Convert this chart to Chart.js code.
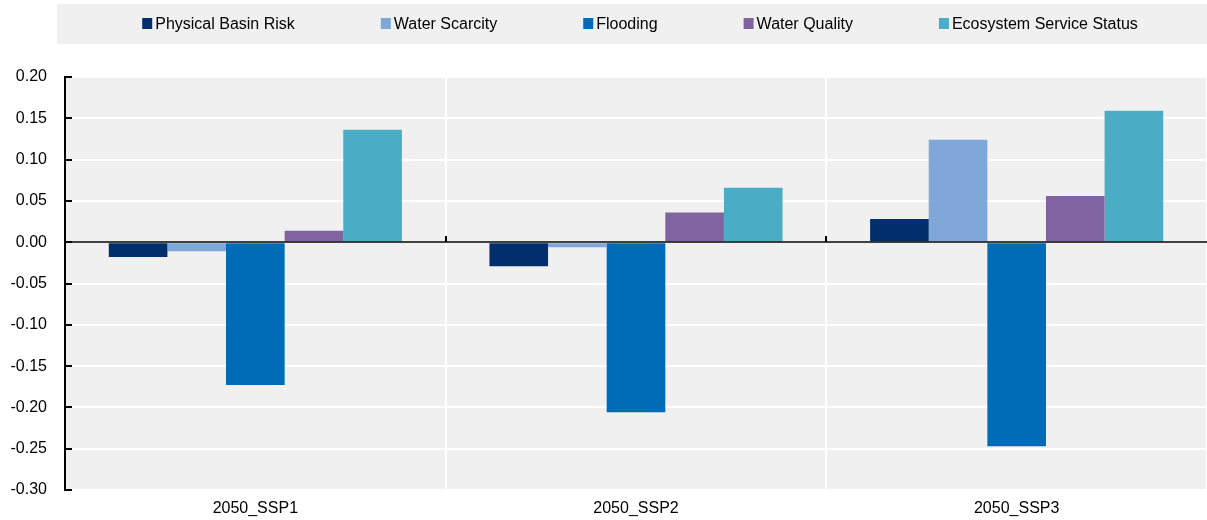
<!DOCTYPE html>
<html>
<head>
<meta charset="utf-8">
<script src="https://cdn.jsdelivr.net/npm/chart.js@4.4.0/dist/chart.umd.min.js"></script>
<style>
  html, body { margin: 0; padding: 0; background: #fff; }
  #wrap { width: 1207px; height: 520px; }
</style>
</head>
<body>
<div id="wrap"><canvas id="myChart" width="1207" height="520"></canvas></div>
<script>
'use strict';

let scenarios = ['2050_SSP1', '2050_SSP2', '2050_SSP3'];

let physicalBasinRisk = [-0.018, -0.029, 0.028];
let waterScarcity = [-0.011, -0.006, 0.124];
let flooding = [-0.173, -0.206, -0.247];
let waterQuality = [0.014, 0.036, 0.056];
let ecosystemService = [0.136, 0.066, 0.159];

let seriesNames = ['Physical Basin Risk', 'Water Scarcity', 'Flooding', 'Water Quality', 'Ecosystem Service Status'];
let seriesColors = ['#002F6C', '#7FA8D9', '#006BB6', '#8064A2', '#4BACC6'];

let yTicks = { min: -0.30, max: 0.20, step: 0.05 };

const FONT = 'Arial, "Liberation Sans", sans-serif';

// gray plot background + legend strip
const backdrop = {
    id: 'backdrop',
    beforeDraw(chart) {
        const ctx = chart.ctx;
        const a = chart.chartArea;
        ctx.save();
        ctx.fillStyle = '#f0f0f0';
        ctx.fillRect(57, 4, chart.width - 57, 40);
        ctx.fillRect(a.left, a.top, a.right - a.left, a.bottom - a.top);
        ctx.restore();
    }
};

// legend drawn by hand so item spacing can match
const legendRow = {
    id: 'legendRow',
    afterDraw(chart) {
        const ctx = chart.ctx;
        const sets = chart.data.datasets;
        ctx.save();
        ctx.font = '16px ' + FONT;
        ctx.textBaseline = 'middle';
        let gap = 86, box = 10;
        let total = 0;
        sets.forEach(function (d) { total += box + 3 + ctx.measureText(d.label).width; });
        total += gap * (sets.length - 1);
        let x = 640 - total / 2;
        let y = 24;
        sets.forEach(function (d) {
            ctx.fillStyle = d.backgroundColor;
            ctx.fillRect(x, y - 6, box, 11);
            ctx.fillStyle = '#000';
            ctx.fillText(d.label, x + box + 3, y + 1);
            x += box + 3 + ctx.measureText(d.label).width + gap;
        });
        ctx.restore();
    }
};

// zero line, inward y ticks and small ticks at category borders
const axisBits = {
    id: 'axisBits',
    afterDatasetsDraw(chart) {
        const ctx = chart.ctx;
        const a = chart.chartArea;
        const y = chart.scales.y;
        const y0 = Math.round(y.getPixelForValue(0));
        ctx.save();
        ctx.strokeStyle = '#000';
        ctx.lineWidth = 1.5;
        ctx.beginPath();
        ctx.moveTo(a.left, y0);
        ctx.lineTo(a.right, y0);
        ctx.stroke();
        ctx.lineWidth = 2;
        ctx.beginPath();
        y.ticks.forEach(function (t) {
            const py = Math.round(y.getPixelForValue(t.value));
            ctx.moveTo(a.left, py);
            ctx.lineTo(a.left + 7, py);
        });
        const w = (a.right - a.left) / scenarios.length;
        for (let i = 1; i < scenarios.length; i++) {
            const px = Math.round(a.left + w * i);
            ctx.moveTo(px, y0);
            ctx.lineTo(px, y0 - 6);
        }
        ctx.stroke();
        ctx.restore();
    }
};

const allSeries = [physicalBasinRisk, waterScarcity, flooding, waterQuality, ecosystemService];

let ctx = document.getElementById('myChart').getContext('2d');

let myChart = new Chart(ctx, {
    type: 'bar',
    data: {
        labels: scenarios,
        datasets: allSeries.map(function (vals, i) {
            return {
                label: seriesNames[i],
                data: vals,
                backgroundColor: seriesColors[i],
                borderWidth: 0,
                categoryPercentage: 0.77,
                barPercentage: 1.0
            };
        })
    },
    options: {
        responsive: false,
        animation: false,
        layout: { padding: { left: 10, right: 0, top: 77, bottom: 2 } },
        plugins: {
            legend: { display: false },
            tooltip: { enabled: false }
        },
        scales: {
            x: {
                grid: { color: '#ffffff', lineWidth: 2, drawTicks: false, offset: true },
                border: { display: false },
                ticks: { color: '#000', font: { family: FONT, size: 16 }, padding: 9 },
                afterFit: function (s) { s.height = 28; }
            },
            y: {
                min: yTicks.min,
                max: yTicks.max,
                grid: { color: '#ffffff', lineWidth: 2, drawTicks: false },
                border: { display: true, color: '#000', width: 2 },
                ticks: {
                    stepSize: yTicks.step,
                    color: '#000',
                    font: { family: FONT, size: 16 },
                    padding: 18,
                    callback: function (v) { return v.toFixed(2); }
                },
                afterFit: function (s) { s.width = 55; }
            }
        }
    },
    plugins: [backdrop, legendRow, axisBits]
});
</script>
</body>
</html>
